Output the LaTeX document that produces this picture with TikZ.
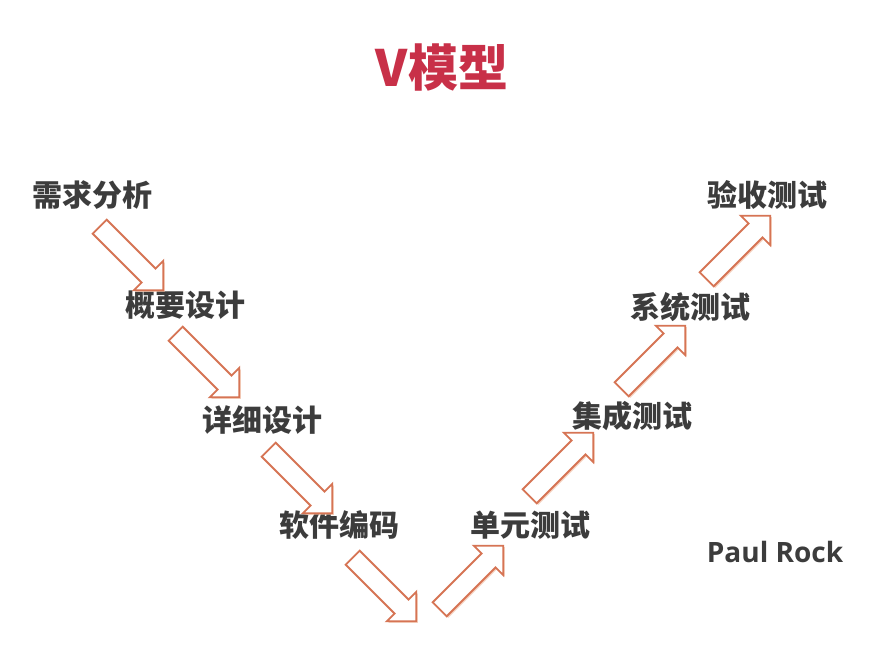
\documentclass[tikz,border=0pt]{standalone}
\usepackage{fontspec}
\usepackage{xcolor}
\usepackage{tikz}
\usetikzlibrary{shapes.arrows, shadows}
\newfontfamily\cjk{Noto Sans CJK SC}
\newfontfamily\latinfont{Open Sans}
\definecolor{vred}{RGB}{200,48,72}
\definecolor{stagegray}{RGB}{60,60,60}
\definecolor{arroworange}{RGB}{214,116,84}
\definecolor{shadeorange}{RGB}{240,180,150}

\begin{document}
\begin{tikzpicture}[
        x=1pt, y=-1pt,
        stage/.style={text=stagegray, font=\cjk\bfseries\fontsize{30}{32}\selectfont,
                      inner sep=0pt},
        blockarrow/.style={single arrow, draw=arroworange, fill=white,
                           line width=1.8pt, inner sep=9pt, minimum height=90pt,
                           single arrow head extend=11pt,
                           drop shadow={shadow xshift=1.5pt, shadow yshift=-1.5pt,
                                        fill=shadeorange, opacity=0.6}}
      ]
        \useasboundingbox[fill=white] (0,0) rectangle (891,671);
        % Title
        \node[text=vred, font=\cjk\bfseries\fontsize{50}{54}\selectfont] (title) at (442, 68) {V模型};
        % Stages -- manually placed
        \node[stage] (req)    at ( 92, 195) {需求分析};
        \node[stage] (prelim) at (185, 305) {概要设计};
        \node[stage] (detail) at (262, 420) {详细设计};
        \node[stage] (coding) at (339, 525) {软件编码};
        \node[stage] (unit)   at (530, 525) {单元测试};
        \node[stage] (integ)  at (632, 416) {集成测试};
        \node[stage] (system) at (690, 307) {系统测试};
        \node[stage] (accept) at (767, 195) {验收测试};
        % Block arrows
        \node[blockarrow, rotate=-45] (down1) at (128, 255) {};
        \node[blockarrow, rotate=-45] (down2) at (204, 362) {};
        \node[blockarrow, rotate=-45] (down3) at (297, 478) {};
        \node[blockarrow, rotate=-45] (down4) at (381, 586) {};
        \node[blockarrow, rotate=45]  (up1)   at (468, 581) {};
        \node[blockarrow, rotate=45]  (up2)   at (558, 468) {};
        \node[blockarrow, rotate=45]  (up3)   at (650, 361) {};
        \node[blockarrow, rotate=45]  (up4)   at (735, 251) {};
        % Author
        \node[text=stagegray, font=\latinfont\bfseries\fontsize{28}{30}\selectfont] (author) at (775, 552) {Paul Rock};
      \end{tikzpicture}
\end{document}
